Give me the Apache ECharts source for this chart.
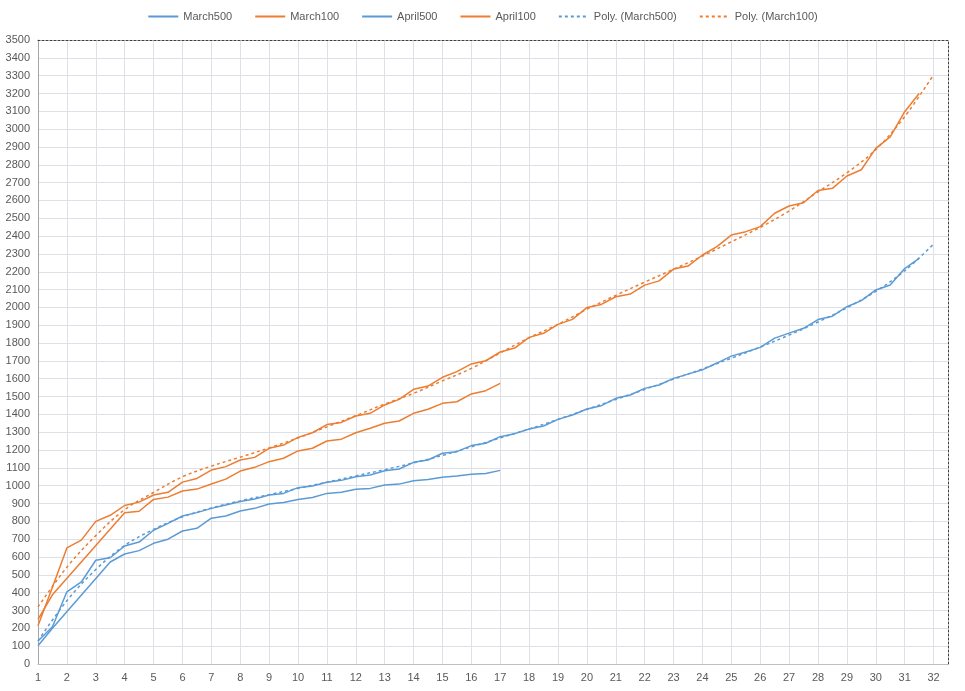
<!DOCTYPE html>
<html>
<head>
<meta charset="utf-8">
<script src="https://cdn.jsdelivr.net/npm/echarts@6/dist/echarts.min.js"></script>
<style>
html,body{margin:0;padding:0;background:#fff;}
#chart{width:965px;height:691px;}
</style>
</head>
<body>
<div id="chart"></div>
<script>
// X categories (half-day steps)
const categories = ['1','1.5','2','2.5','3','3.5','4','4.5','5','5.5','6','6.5','7','7.5','8','8.5','9','9.5','10','10.5',
  '11','11.5','12','12.5','13','13.5','14','14.5','15','15.5','16','16.5','17','17.5','18','18.5','19','19.5','20','20.5',
  '21','21.5','22','22.5','23','23.5','24','24.5','25','25.5','26','26.5','27','27.5','28','28.5','29','29.5','30','30.5',
  '31','31.5','32','32.5'];

// Y tick range
const yMin = 0, yMax = 3500, yStep = 100;

// Series values (aligned to categories)
const march500 = [129,209,405,460,582,596,662,684,750,789,
  830,849,873,892,911,925,948,957,989,998,
  1019,1030,1050,1060,1084,1094,1131,1144,1182,1191,
  1225,1238,1275,1292,1318,1335,1372,1397,1430,1449,
  1490,1509,1546,1565,1602,1626,1650,1688,1727,1750,
  1776,1828,1856,1883,1932,1951,2004,2038,2098,2126,
  2218,2275];

const march100 = [215,430,651,695,800,834,889,908,948,963,
  1020,1041,1088,1107,1144,1159,1210,1228,1271,1297,
  1343,1355,1391,1406,1453,1484,1541,1559,1608,1640,
  1683,1701,1750,1772,1832,1855,1905,1933,1999,2017,
  2060,2075,2125,2149,2215,2232,2294,2341,2406,2425,
  2453,2528,2569,2587,2656,2668,2737,2772,2892,2957,
  3098,3200];

const april500 = [102,200,null,null,null,572,617,636,677,700,
  746,761,818,830,858,873,897,906,923,934,
  957,963,980,985,1004,1009,1028,1035,1047,1054,
  1064,1069,1086];

const april100 = [250,388,null,null,null,null,849,857,923,936,
  970,981,1010,1037,1082,1103,1135,1154,1195,1210,
  1251,1261,1297,1322,1350,1363,1406,1429,1462,1471,
  1515,1533,1574];

// Trendline readings at whole days
const polyDays = ['1','2','3','4','5','6','7','8','9','10','11','12','13','14','15','16',
  '17','18','19','20','21','22','23','24','25','26','27','28','29','30','31','32'];
const polyMarch500 = [130,355,530,665,755,825,875,915,950,985,1020,1055,1090,1128,1170,1218,
  1268,1318,1372,1428,1484,1540,1598,1655,1715,1778,1845,1918,1998,2090,2205,2355];
const polyMarch100 = [320,543,720,866,962,1050,1110,1160,1212,1268,1330,1393,1458,1518,1588,1658,
  1745,1830,1905,1990,2068,2142,2214,2288,2368,2449,2541,2648,2755,2885,3070,3305];

const BLUE = '#5b9bd5', ORANGE = '#ed7d31';
const TXT = '#595959';
const FONT = 'Liberation Sans';

const chart = echarts.init(document.getElementById('chart'), null, {renderer:'canvas'});

function solid(name, data, color, connect){
  return {name, type:'line', data, symbol:'none', connectNulls: !!connect,
    lineStyle:{color, width:1.5}, itemStyle:{color}, xAxisIndex:0, yAxisIndex:0, animation:false};
}
function poly(name, vals, color){
  return {name, type:'line', data: polyDays.map((d,i)=>[d, vals[i]]), symbol:'none', smooth:0.35,
    lineStyle:{color, width:1.5, type:[3,3]}, itemStyle:{color}, xAxisIndex:0, yAxisIndex:0, animation:false};
}

chart.setOption({
  backgroundColor:'#fff',
  animation:false,
  textStyle:{fontFamily:FONT},
  legend:{
    top:6, left:'center',
    itemWidth:30, itemHeight:10, itemGap:22,
    itemStyle:{opacity:0},
    textStyle:{color:TXT, fontSize:11, fontFamily:FONT},
    data:['March500','March100','April500','April100','Poly. (March500)','Poly. (March100)']
  },
  grid:{left:38, right:17, top:40, bottom:27, containLabel:false},
  xAxis:[{
    type:'category', data:categories, boundaryGap:false,
    axisLine:{show:true, onZero:false, lineStyle:{color:'#bfbfbf', width:1}},
    axisTick:{show:false},
    axisLabel:{interval:1, color:TXT, fontSize:11, fontFamily:FONT, margin:8},
    splitLine:{show:true, interval:1, lineStyle:{color:'#dde1e7', width:1}}
  },{
    type:'category', data:categories, boundaryGap:false, position:'top',
    axisLine:{show:true, onZero:false, lineStyle:{color:'#404040', width:1, type:[2,2]}},
    axisTick:{show:false}, axisLabel:{show:false}, splitLine:{show:false}
  }],
  yAxis:[{
    type:'value', min:yMin, max:yMax, interval:yStep,
    axisLine:{show:true, onZero:false, lineStyle:{color:'#a6a6a6', width:1}},
    axisTick:{show:false},
    axisLabel:{color:TXT, fontSize:11, fontFamily:FONT, margin:8, formatter:(v)=>String(v)},
    splitLine:{show:true, lineStyle:{color:'#dde1e7', width:1}}
  },{
    type:'value', min:yMin, max:yMax, interval:yStep, position:'right',
    axisLine:{show:true, onZero:false, lineStyle:{color:'#404040', width:1, type:[2,2]}},
    axisTick:{show:false}, axisLabel:{show:false}, splitLine:{show:false}
  }],
  series:[
    solid('March500', march500, BLUE),
    solid('March100', march100, ORANGE),
    solid('April500', april500, BLUE, true),
    solid('April100', april100, ORANGE, true),
    poly('Poly. (March500)', polyMarch500, BLUE),
    poly('Poly. (March100)', polyMarch100, ORANGE)
  ]
});
</script>
</body>
</html>
